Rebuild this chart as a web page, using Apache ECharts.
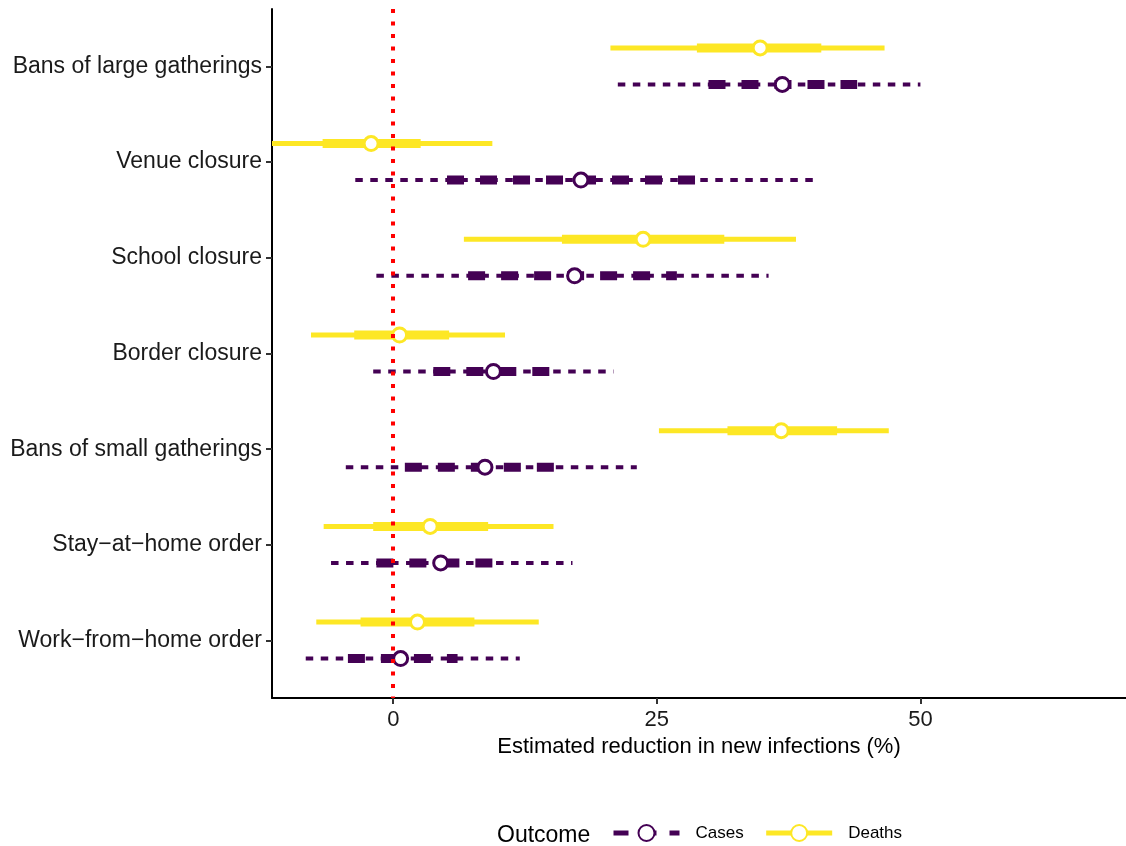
<!DOCTYPE html>
<html>
<head>
<meta charset="utf-8">
<script src="https://cdn.jsdelivr.net/npm/echarts@6/dist/echarts.min.js"></script>
<style>html,body{margin:0;padding:0;background:#fff}#chart{width:1126px;height:846px}</style>
</head>
<body>
<div id="chart"></div>
<script>
var categories = ['Bans of large gatherings', 'Venue closure', 'School closure', 'Border closure',
  'Bans of small gatherings', 'Stay\u2212at\u2212home order', 'Work\u2212from\u2212home order'];
var xTicks = [0, 25, 50];

// Cases (purple, dashed)
var casesMedian = [36.9, 17.8, 17.2, 9.5, 8.7, 4.5, 0.7];
var casesLo95   = [21.3, -3.6, -1.6, -1.9, -4.5, -5.9, -8.3];
var casesHi95   = [50.0, 40.1, 35.6, 20.9, 23.1, 17.0, 12.0];
var casesLo50   = [29.9, 5.1, 7.1, 3.8, 1.1, -1.6, -4.3];
var casesHi50   = [44.0, 30.1, 26.9, 15.2, 16.0, 9.9, 6.1];

// Deaths (yellow, solid)
var deathsMedian = [34.8, -2.1, 23.7, 0.6, 36.8, 3.5, 2.3];
var deathsLo95   = [20.6, -13.0, 6.7, -7.8, 25.2, -6.6, -7.3];
var deathsHi95   = [46.6, 9.4, 38.2, 10.6, 47.0, 15.2, 13.8];
var deathsLo50   = [28.8, -6.7, 16.0, -3.7, 31.7, -1.9, -3.1];
var deathsHi50   = [40.6, 2.6, 31.4, 5.3, 42.1, 9.0, 7.7];

var PURPLE = '#440154', YELLOW = '#FDE725';
var FONT = '"Liberation Sans", Arial, sans-serif';

function rows(lo95, hi95, lo50, hi50, med) {
  return categories.map(function (c, i) { return [i, lo95[i], hi95[i], lo50[i], hi50[i], med[i]]; });
}

function makeRender(offset, color, dashed) {
  return function (params, api) {
    var cat = api.value(0);
    var y = api.coord([0, cat])[1] + offset;
    var xa = api.coord([api.value(1), cat])[0];
    var xb = api.coord([api.value(2), cat])[0];
    var xc = api.coord([api.value(3), cat])[0];
    var xd = api.coord([api.value(4), cat])[0];
    var xm = api.coord([api.value(5), cat])[0];
    return {
      type: 'group',
      children: [
        { type: 'line', shape: { x1: xa, y1: y, x2: xb, y2: y },
          style: { stroke: color, lineWidth: dashed ? 4 : 5, lineDash: dashed ? [7.5, 7.5] : null, fill: null } },
        { type: 'line', shape: { x1: xc, y1: y, x2: xd, y2: y },
          style: { stroke: color, lineWidth: 9, lineDash: dashed ? [17, 16] : null, fill: null } },
        { type: 'circle', shape: { cx: xm, cy: y, r: 7 },
          style: { fill: '#ffffff', stroke: color, lineWidth: 3 } }
      ]
    };
  };
}

var chart = echarts.init(document.getElementById('chart'), null, { renderer: 'canvas' });
chart.setOption({
  animation: false,
  backgroundColor: '#ffffff',
  textStyle: { fontFamily: FONT },
  grid: { left: 272, right: 0, top: 9, bottom: 148, containLabel: false },
  title: {
    text: 'Outcome', left: 492, top: 819,
    textStyle: { fontFamily: FONT, fontSize: 23, fontWeight: 'normal', color: '#000' }
  },
  legend: {
    data: ['Cases', 'Deaths'],
    left: 606, top: 819,
    itemWidth: 66, itemHeight: 20, itemGap: 20,
    lineStyle: { width: 5 },
    textStyle: { fontFamily: FONT, fontSize: 17, color: '#000', padding: [0, 0, 0, 11] }
  },
  xAxis: {
    type: 'value', min: -11.5, max: 69.5,
    splitLine: { show: false },
    axisLine: { show: true, onZero: false, lineStyle: { color: '#000', width: 2 } },
    axisTick: { show: true, customValues: xTicks, length: 6, lineStyle: { color: '#333', width: 2 } },
    axisLabel: { customValues: xTicks, fontSize: 22, color: '#1a1a1a', margin: 11, fontFamily: FONT },
    name: 'Estimated reduction in new infections (%)',
    nameLocation: 'middle', nameGap: 37,
    nameTextStyle: { fontSize: 22, color: '#000', fontFamily: FONT }
  },
  yAxis: {
    type: 'value', min: -0.6, max: 6.6, inverse: true,
    splitLine: { show: false },
    axisLine: { show: true, onZero: false, lineStyle: { color: '#000', width: 2 } },
    axisTick: { show: true, customValues: [0, 1, 2, 3, 4, 5, 6], length: 6, lineStyle: { color: '#333', width: 2 } },
    axisLabel: {
      customValues: [0, 1, 2, 3, 4, 5, 6], fontSize: 23, color: '#1a1a1a', margin: 10, fontFamily: FONT,
      formatter: function (v) { return categories[Math.round(v)]; }
    }
  },
  series: [
    {
      type: 'custom', name: 'DeathsRanges', clip: true, z: 2,
      renderItem: makeRender(-18.5, YELLOW, false),
      encode: { x: [1, 2, 3, 4, 5], y: 0 },
      data: rows(deathsLo95, deathsHi95, deathsLo50, deathsHi50, deathsMedian)
    },
    {
      type: 'custom', name: 'CasesRanges', clip: true, z: 2,
      renderItem: makeRender(18, PURPLE, true),
      encode: { x: [1, 2, 3, 4, 5], y: 0 },
      data: rows(casesLo95, casesHi95, casesLo50, casesHi50, casesMedian)
    },
    {
      type: 'line', name: 'Cases', data: [],
      symbol: 'circle', symbolSize: 16,
      itemStyle: { color: '#ffffff', borderColor: PURPLE, borderWidth: 3 },
      lineStyle: { color: PURPLE, width: 5, type: [15, 13] }
    },
    {
      type: 'line', name: 'Deaths', data: [],
      symbol: 'circle', symbolSize: 16,
      itemStyle: { color: '#ffffff', borderColor: YELLOW, borderWidth: 3 },
      lineStyle: { color: YELLOW, width: 5, type: 'solid' }
    },
    {
      type: 'line', name: 'zero', data: [], z: 10,
      markLine: {
        silent: true, symbol: ['none', 'none'], animation: false,
        label: { show: false },
        lineStyle: { color: '#ff0000', width: 4, type: [4, 8.5] },
        data: [{ xAxis: 0 }]
      }
    }
  ]
});
</script>
</body>
</html>
